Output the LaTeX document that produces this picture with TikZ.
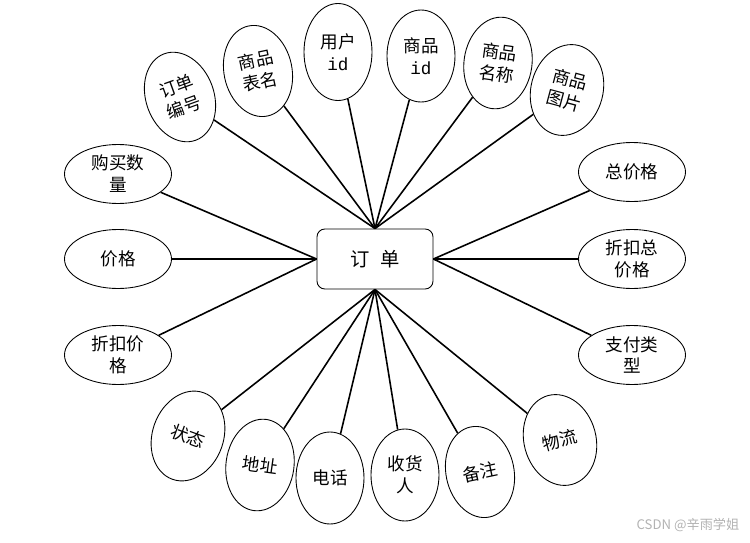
\documentclass[tikz,border=0pt]{standalone}
\usepackage{fontspec}
\setmainfont{Noto Sans CJK SC}
\setmonofont{Liberation Mono}
\usetikzlibrary{shapes.geometric}
\tikzset{
  shiti/.style    = {draw, rounded corners=4.5pt, minimum width=23.2mm, minimum height=12mm,
                     line width=0.5pt, font=\fontsize{11}{13}\selectfont},
  shuxing/.style  = {draw, ellipse, line width=0.5pt, align=center, inner sep=0pt,
                     font=\fontsize{10}{12.5}\selectfont},
  shu/.style      = {shuxing, minimum width=13.6mm, minimum height=18.4mm},
  heng/.style     = {shuxing, minimum width=21.4mm, minimum height=11.8mm},
  lianxian/.style = {line width=0.9pt},
  shuiyin/.style  = {font=\fontsize{7.5}{9}\selectfont, text=black!30}
}

\begin{document}
\begin{tikzpicture}
        \useasboundingbox (0,0) rectangle (15,10.84);

        \node[shiti] (dingdan) at (7.5,5.66) {订\hspace{6pt}单};

        % sus
        \node[shu, rotate=20] (bianhao) at (3.60,8.90) {订单\\编号};
        \node[shu, rotate=12] (biaoming) at (5.16,9.42) {商品\\表名};
        \node[shu, minimum height=19.4mm] (yonghu) at (6.76,9.80) {用户\\{\ttfamily id}};
        \node[shu] (shangpin) at (8.42,9.72) {商品\\{\ttfamily id}};
        \node[shu, rotate=-8] (mingcheng) at (9.96,9.58) {商品\\名称};
        \node[shu, rotate=-15, minimum width=14.4mm] (tupian) at (11.34,9.04) {商品\\图片};

        % stanga
        \node[heng] (shuliang) at (2.36,7.36) {购买数\\量};
        \node[heng] (jiage) at (2.36,5.66) {价格};
        \node[heng] (zhekou) at (2.36,3.74) {折扣价\\格};

        % dreapta
        \node[heng] (zongjia) at (12.64,7.40) {总价格};
        \node[heng] (zhekouzong) at (12.64,5.66) {折扣总\\价格};
        \node[heng] (zhifu) at (12.64,3.74) {支付类\\型};

        % jos
        \node[shu, rotate=-20, minimum width=14.2mm] (zhuangtai) at (3.76,2.12) {状态};
        \node[shu, rotate=-8] (dizhi) at (5.20,1.54) {地址};
        \node[shu] (dianhua) at (6.60,1.28) {电话};
        \node[shu] (shouhuoren) at (8.10,1.34) {收货\\人};
        \node[shu, rotate=12] (beizhu) at (9.60,1.40) {备注};
        \node[shu, rotate=15, minimum width=14.4mm] (wuliu) at (11.20,2.04) {物流};

        \draw[lianxian] (dingdan.north) -- (bianhao);
        \draw[lianxian] (dingdan.north) -- (biaoming);
        \draw[lianxian] (dingdan.north) -- (yonghu);
        \draw[lianxian] (dingdan.north) -- (shangpin);
        \draw[lianxian] (dingdan.north) -- (mingcheng);
        \draw[lianxian] (dingdan.north) -- (tupian);

        \draw[lianxian] (dingdan.west) -- (shuliang);
        \draw[lianxian] (dingdan.west) -- (jiage);
        \draw[lianxian] (dingdan.west) -- (zhekou);

        \draw[lianxian] (dingdan.east) -- (zongjia);
        \draw[lianxian] (dingdan.east) -- (zhekouzong);
        \draw[lianxian] (dingdan.east) -- (zhifu);

        \draw[lianxian] (dingdan.south) -- (zhuangtai);
        \draw[lianxian] (dingdan.south) -- (dizhi);
        \draw[lianxian] (dingdan.south) -- (dianhua);
        \draw[lianxian] (dingdan.south) -- (shouhuoren);
        \draw[lianxian] (dingdan.south) -- (beizhu);
        \draw[lianxian] (dingdan.south) -- (wuliu);

        \node[shuiyin] (csdn) at (13.76,0.34) {CSDN @辛雨学姐};
    \end{tikzpicture}
\end{document}
